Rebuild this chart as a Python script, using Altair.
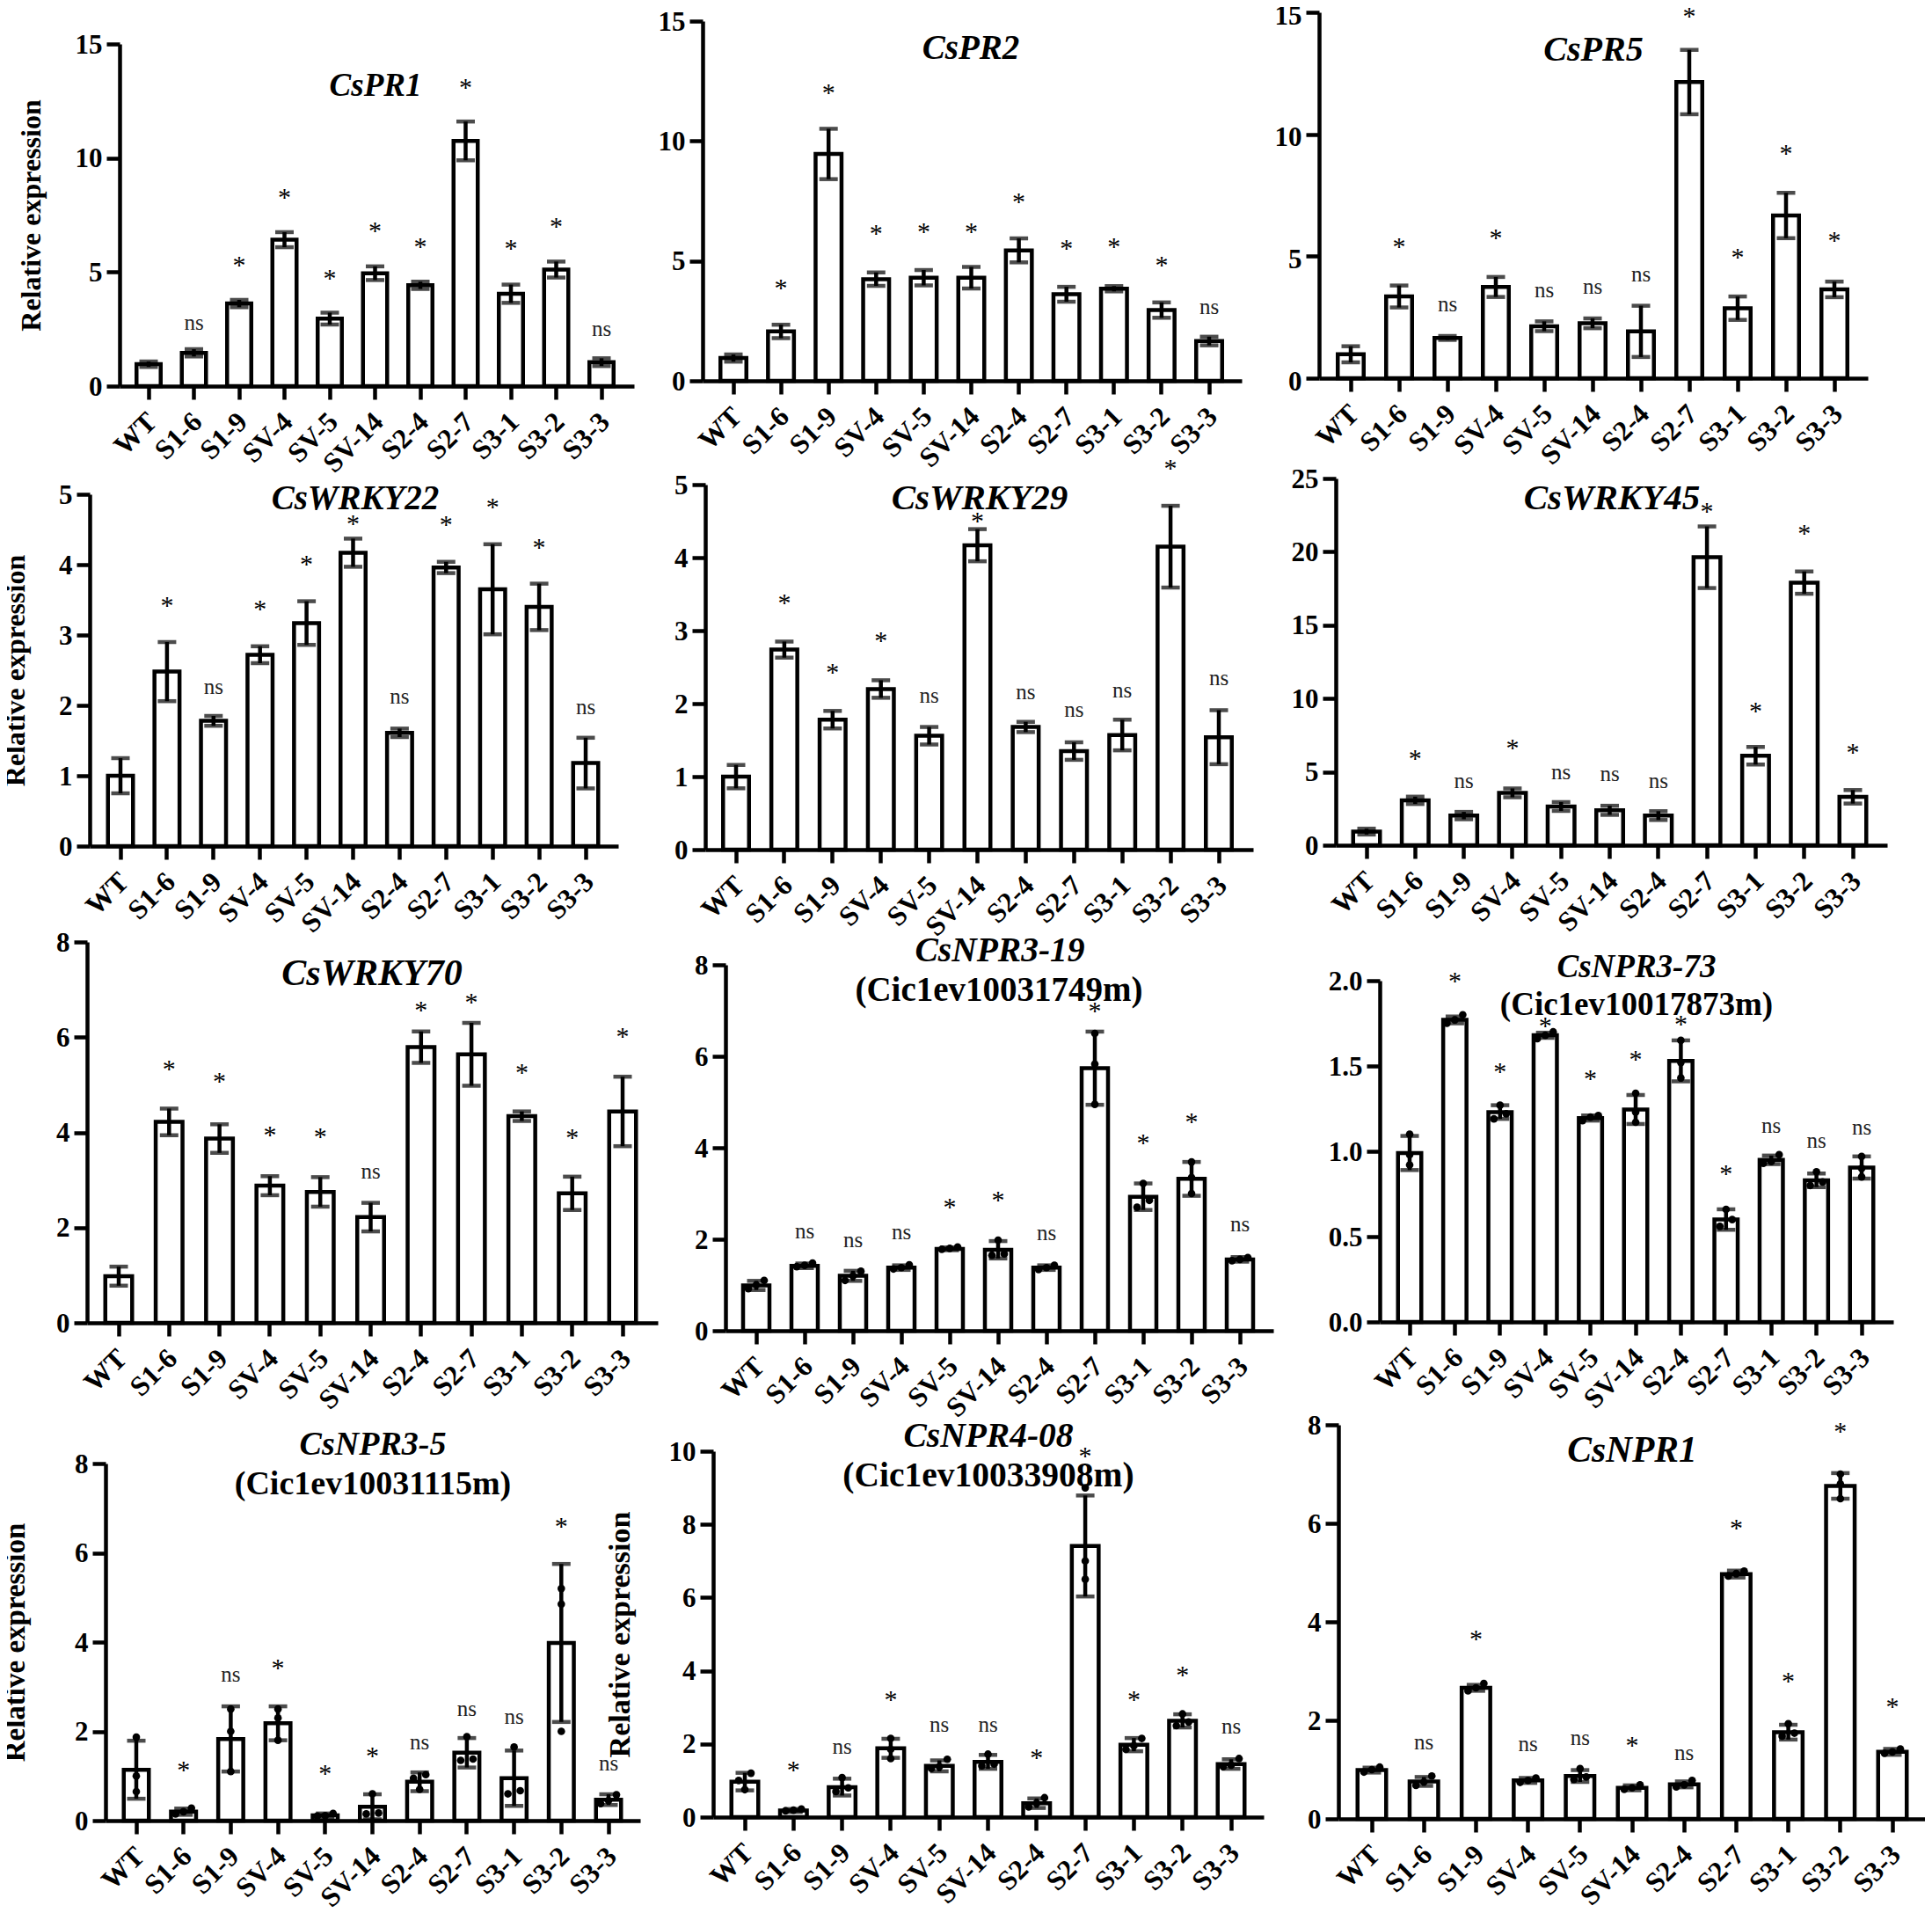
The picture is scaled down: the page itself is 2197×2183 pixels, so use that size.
import altair as alt
import pandas as pd

categories = ['WT', 'S1-6', 'S1-9', 'SV-4', 'SV-5', 'SV-14', 'S2-4', 'S2-7', 'S3-1', 'S3-2', 'S3-3']

pr1_mean = [0.96, 1.46, 3.62, 6.42, 2.96, 4.95, 4.42, 10.75, 4.05, 5.11, 1.05]
pr1_err = [0.12, 0.16, 0.16, 0.33, 0.26, 0.3, 0.16, 0.85, 0.4, 0.35, 0.17]
pr1_sig = ['', 'ns', '*', '*', '*', '*', '*', '*', '*', '*', 'ns']
pr1_sig_y = [0, 2.69, 5.49, 8.44, 4.91, 6.98, 6.28, 13.26, 6.22, 7.18, 2.42]

pr2_mean = [0.95, 2.06, 9.46, 4.24, 4.30, 4.30, 5.44, 3.61, 3.84, 2.95, 1.66]
pr2_err = [0.15, 0.28, 1.05, 0.28, 0.32, 0.45, 0.5, 0.31, 0.11, 0.32, 0.18]
pr2_sig = ['', '*', '*', '*', '*', '*', '*', '*', '*', '*', 'ns']
pr2_sig_y = [0, 4.05, 12.18, 6.29, 6.39, 6.39, 7.62, 5.68, 5.76, 5.0, 3.0]

pr5_mean = [0.98, 3.35, 1.65, 3.74, 2.13, 2.25, 1.92, 12.14, 2.87, 6.67, 3.64]
pr5_err = [0.33, 0.45, 0.08, 0.41, 0.2, 0.2, 1.05, 1.32, 0.48, 0.93, 0.32]
pr5_sig = ['', '*', 'ns', '*', 'ns', 'ns', 'ns', '*', '*', '*', '*']
pr5_sig_y = [0, 5.55, 2.96, 5.92, 3.52, 3.66, 4.18, 15.0, 5.11, 9.37, 5.8]

wrky22_mean = [1.0, 2.48, 1.78, 2.72, 3.17, 4.17, 1.61, 3.96, 3.65, 3.4, 1.18]
wrky22_err = [0.25, 0.42, 0.07, 0.12, 0.31, 0.2, 0.06, 0.08, 0.64, 0.33, 0.36]
wrky22_sig = ['', '*', 'ns', '*', '*', '*', 'ns', '*', '*', '*', 'ns']
wrky22_sig_y = [0, 3.47, 2.24, 3.42, 4.06, 4.64, 2.10, 4.62, 4.87, 4.3, 1.95]

wrky29_mean = [1.0, 2.74, 1.78, 2.2, 1.56, 4.17, 1.68, 1.35, 1.57, 4.15, 1.54]
wrky29_err = [0.16, 0.11, 0.12, 0.12, 0.12, 0.22, 0.07, 0.12, 0.21, 0.56, 0.37]
wrky29_sig = ['', '*', '*', '*', 'ns', '*', 'ns', 'ns', 'ns', '*', 'ns']
wrky29_sig_y = [0, 3.43, 2.48, 2.92, 2.08, 4.56, 2.13, 1.89, 2.16, 5.28, 2.32]

wrky45_mean = [0.93, 3.06, 2.02, 3.57, 2.64, 2.38, 2.02, 19.63, 6.1, 17.9, 3.3]
wrky45_err = [0.2, 0.25, 0.25, 0.3, 0.3, 0.31, 0.3, 2.1, 0.6, 0.76, 0.46]
wrky45_sig = ['', '*', 'ns', '*', 'ns', 'ns', 'ns', '*', '*', '*', '*']
wrky45_sig_y = [0, 6.2, 4.28, 6.92, 4.86, 4.75, 4.24, 23.04, 9.4, 21.5, 6.57]

wrky70_mean = [0.98, 4.22, 3.87, 2.88, 2.75, 2.22, 5.79, 5.64, 4.34, 2.72, 4.44]
wrky70_err = [0.2, 0.28, 0.3, 0.2, 0.31, 0.3, 0.33, 0.66, 0.1, 0.35, 0.73]
wrky70_sig = ['', '*', '*', '*', '*', 'ns', '*', '*', '*', '*', '*']
wrky70_sig_y = [0, 5.42, 5.15, 4.03, 4.0, 3.15, 6.65, 6.81, 5.34, 3.97, 6.09]

npr319_mean = [0.99, 1.42, 1.2, 1.38, 1.79, 1.77, 1.38, 5.74, 2.93, 3.32, 1.56]
npr319_err = [0.1, 0.05, 0.11, 0.05, 0.03, 0.19, 0.05, 0.8, 0.29, 0.37, 0.05]
npr319_sig = ['', 'ns', 'ns', 'ns', '*', '*', 'ns', '*', '*', '*', 'ns']
npr319_sig_y = [0, 2.14, 1.95, 2.12, 2.78, 2.95, 2.09, 7.07, 4.19, 4.65, 2.29]
npr319_points = [[0.92, 1.0, 1.1], [1.4, 1.43, 1.48], [1.1, 1.2, 1.3], [1.35, 1.38, 1.44],
                 [1.78, 1.8, 1.83], [1.65, 1.68, 1.98], [1.34, 1.38, 1.43], [4.95, 5.83, 6.5],
                 [2.7, 2.85, 3.22], [3.0, 3.35, 3.69], [1.53, 1.56, 1.6]]

npr373_mean = [0.99, 1.77, 1.23, 1.68, 1.195, 1.245, 1.53, 0.6, 0.95, 0.83, 0.905]
npr373_err = [0.1, 0.02, 0.04, 0.015, 0.015, 0.085, 0.12, 0.06, 0.025, 0.04, 0.065]
npr373_sig = ['', '*', '*', '*', '*', '*', '*', '*', 'ns', 'ns', 'ns']
npr373_sig_y = [0, 2.02, 1.49, 1.76, 1.45, 1.56, 1.77, 0.89, 1.14, 1.05, 1.13]
npr373_points = [[0.92, 0.98, 1.1], [1.75, 1.77, 1.8], [1.19, 1.22, 1.27], [1.66, 1.68, 1.7],
                 [1.18, 1.2, 1.21], [1.17, 1.23, 1.34], [1.43, 1.52, 1.65], [0.56, 0.6, 0.66],
                 [0.93, 0.94, 0.98], [0.8, 0.82, 0.88], [0.85, 0.9, 0.97]]

npr35_mean = [1.14, 0.2, 1.83, 2.18, 0.12, 0.31, 0.87, 1.52, 0.95, 3.98, 0.47]
npr35_err = [0.65, 0.07, 0.73, 0.38, 0.04, 0.28, 0.21, 0.33, 0.62, 1.77, 0.12]
npr35_sig = ['', '*', 'ns', '*', '*', '*', 'ns', 'ns', 'ns', '*', 'ns']
npr35_sig_y = [0, 1.23, 3.24, 3.5, 1.14, 1.54, 1.72, 2.47, 2.29, 6.68, 1.24]
npr35_points = [[0.65, 1.0, 1.87], [0.15, 0.2, 0.28], [1.1, 2.0, 2.5], [1.8, 2.3, 2.5],
                [0.1, 0.11, 0.16], [0.15, 0.17, 0.6], [0.7, 0.95, 1.03], [1.35, 1.38, 1.88],
                [0.6, 0.67, 1.65], [2.0, 4.85, 5.2], [0.38, 0.45, 0.58]]

npr408_mean = [0.97, 0.18, 0.82, 1.88, 1.4, 1.51, 0.38, 7.41, 1.98, 2.63, 1.45]
npr408_err = [0.24, 0.04, 0.23, 0.26, 0.15, 0.19, 0.13, 1.38, 0.18, 0.18, 0.13]
npr408_sig = ['', '*', 'ns', '*', 'ns', 'ns', '*', '*', '*', '*', 'ns']
npr408_sig_y = [0, 1.4, 1.88, 3.32, 2.48, 2.48, 1.73, 9.98, 3.32, 4.0, 2.43]
npr408_points = [[0.75, 1.0, 1.2], [0.17, 0.19, 0.22], [0.7, 0.8, 1.08], [1.6, 1.85, 2.15],
                 [1.33, 1.38, 1.58], [1.4, 1.45, 1.72], [0.28, 0.38, 0.53], [6.5, 7.0, 9.0],
                 [1.85, 1.95, 2.15], [2.5, 2.6, 2.82], [1.38, 1.42, 1.6]]

npr1_mean = [0.99, 0.76, 2.66, 0.78, 0.87, 0.63, 0.7, 4.97, 1.76, 6.76, 1.36]
npr1_err = [0.05, 0.09, 0.06, 0.05, 0.12, 0.05, 0.06, 0.07, 0.15, 0.26, 0.06]
npr1_sig = ['', 'ns', '*', 'ns', 'ns', '*', 'ns', '*', '*', '*', '*']
npr1_sig_y = [0, 1.51, 3.73, 1.48, 1.61, 1.58, 1.31, 5.98, 2.88, 7.95, 2.36]
npr1_points = [[0.95, 1.0, 1.05], [0.68, 0.75, 0.87], [2.6, 2.66, 2.75], [0.74, 0.78, 0.83],
               [0.8, 0.85, 1.02], [0.6, 0.63, 0.69], [0.65, 0.69, 0.78], [4.93, 4.98, 5.03],
               [1.68, 1.74, 1.93], [6.5, 6.8, 7.0], [1.33, 1.36, 1.42]]

FONT = 'Liberation Serif'
PAGE_W, PAGE_H = 2181, 2167
MARGIN = 8
LINE = 4.5


def panel(title, mean, err, sig, sig_y, ticks, frame, title_pos, title_size,
          points=None, sub=None, sub_pos=None, sub_size=38, ylabel=None, y_label_shift=1):
    # frame is the plot box
    y_axis, y_base, y_top, first, last, x_end, bar_w = frame
    y_axis -= MARGIN
    y_base -= MARGIN
    y_top -= MARGIN
    first -= MARGIN
    last -= MARGIN
    x_end -= MARGIN

    n = len(categories)
    step = (last - first) / (n - 1)
    inner_w = bar_w - LINE
    pad_in = 1 - inner_w / step
    space = x_end - y_axis
    pad_out = (space / step - n + pad_in) / 2
    align = (first - inner_w / 2 - y_axis) / (space - step * (n - pad_in))

    x_scale = alt.Scale(type='band', domain=categories, range=[y_axis, x_end],
                        paddingInner=pad_in, paddingOuter=pad_out, align=align)
    y_scale = alt.Scale(domain=[0, ticks[-1]], range=[y_base, y_top], nice=False)

    x_axis = alt.Axis(orient='bottom', offset=-(PAGE_H - y_base), title=None, labelAngle=315,
                      labelAlign='right', labelBaseline='middle', labelPadding=20, labelOffset=4,
                      labelFont=FONT, labelFontWeight='bold', labelFontSize=32, labelColor='black',
                      domainColor='black', domainWidth=LINE, tickColor='black', tickWidth=LINE, tickSize=15,
                      labelOverlap=False, grid=False)
    if ylabel:
        y_kwargs = dict(title=ylabel[0], titleFont=FONT, titleFontWeight='bold', titleFontSize=ylabel[2],
                        titleColor='black', titleBaseline='middle', titleAngle=270,
                        titleX=ylabel[1] - MARGIN - y_axis)
    else:
        y_kwargs = dict(title=None)
    y_axis_def = alt.Axis(orient='left', offset=-y_axis, values=ticks, labelFont=FONT, labelFontWeight='bold',
                          labelFontSize=31, labelColor='black', labelPadding=5, labelOffset=y_label_shift,
                          domainColor='black', domainWidth=LINE, tickColor='black', tickWidth=LINE, tickSize=15,
                          grid=False, labelOverlap=False, **y_kwargs)

    df = pd.DataFrame({'cat': categories, 'mean': mean, 'err': err, 'sig': sig, 'sig_y': sig_y})
    df['lo'] = df['mean'] - df['err']
    df['hi'] = df['mean'] + df['err']

    x_enc = alt.X('cat:N', scale=x_scale, axis=None)
    base = alt.Chart(df)

    bars = base.mark_bar(fill='white', stroke='black', strokeWidth=LINE).encode(
        x=alt.X('cat:N', scale=x_scale, axis=x_axis),
        y=alt.Y('mean:Q', scale=y_scale, axis=y_axis_def),
    )
    stems = base.mark_rule(color='black', strokeWidth=LINE).encode(
        x=x_enc,
        y=alt.Y('lo:Q', scale=y_scale, axis=None),
        y2='hi:Q',
    )
    caps_lo = base.mark_tick(color='black', size=21, thickness=LINE).encode(
        x=x_enc, y=alt.Y('lo:Q', scale=y_scale, axis=None))
    caps_hi = base.mark_tick(color='black', size=21, thickness=LINE).encode(
        x=x_enc, y=alt.Y('hi:Q', scale=y_scale, axis=None))
    stars = alt.Chart(df[df['sig'] == '*']).mark_text(
        font=FONT, fontSize=30, color='black', baseline='middle', dy=5).encode(
        x=x_enc, y=alt.Y('sig_y:Q', scale=y_scale, axis=None), text='sig:N')
    ns = alt.Chart(df[df['sig'] == 'ns']).mark_text(
        font=FONT, fontSize=25, color='#222222', baseline='middle', dy=-2).encode(
        x=x_enc, y=alt.Y('sig_y:Q', scale=y_scale, axis=None), text='sig:N')
    layers = [bars, stems, caps_lo, caps_hi]

    if points:
        px_per_unit = (y_base - y_top) / ticks[-1]
        rows = []
        for c, vals in zip(categories, points):
            # dots that would sit on top of each other get spread sideways
            gap_a = (vals[1] - vals[0]) * px_per_unit
            gap_b = (vals[2] - vals[1]) * px_per_unit
            if gap_a < 9 and gap_b < 9:
                shift = [-9, 0, 9]
            elif gap_a < 9:
                shift = [-7, 7, 0]
            elif gap_b < 9:
                shift = [0, -7, 7]
            else:
                shift = [0, 0, 0]
            for v, s in zip(vals, shift):
                # xOffset counts from the left edge of the band
                rows.append({'cat': c, 'val': v, 'shift': s + inner_w / 2})
        dots = alt.Chart(pd.DataFrame(rows)).mark_circle(color='black', size=75, opacity=1).encode(
            x=x_enc,
            xOffset=alt.XOffset('shift:Q', scale=None),
            y=alt.Y('val:Q', scale=y_scale, axis=None),
        )
        layers.append(dots)

    layers += [stars, ns]

    head = alt.Chart(pd.DataFrame({'t': [title]})).mark_text(
        font=FONT, fontSize=title_size, fontWeight='bold', fontStyle='italic', color='black',
        baseline='middle', align='center').encode(
        x=alt.value(title_pos[0] - MARGIN), y=alt.value(title_pos[1] - MARGIN), text='t:N')
    layers.append(head)
    if sub:
        sub_text = alt.Chart(pd.DataFrame({'t': [sub]})).mark_text(
            font=FONT, fontSize=sub_size, fontWeight='bold', color='black',
            baseline='middle', align='center').encode(
            x=alt.value(sub_pos[0] - MARGIN), y=alt.value(sub_pos[1] - MARGIN), text='t:N')
        layers.append(sub_text)
    return layers


panels = [
    panel('CsPR1', pr1_mean, pr1_err, pr1_sig, pr1_sig_y, [0, 5, 10, 15],
          (136, 439, 50, 169, 684, 721, 32), (427, 98), 37, ylabel=('Relative expression', 35, 32)),
    panel('CsPR2', pr2_mean, pr2_err, pr2_sig, pr2_sig_y, [0, 5, 10, 15],
          (799, 433, 24, 834, 1375, 1412, 34), (1104, 55), 39),
    panel('CsPR5', pr5_mean, pr5_err, pr5_sig, pr5_sig_y, [0, 5, 10, 15],
          (1500, 430, 14, 1536, 2086, 2124, 34), (1812, 57), 40, y_label_shift=4),
    panel('CsWRKY22', wrky22_mean, wrky22_err, wrky22_sig, wrky22_sig_y, [0, 1, 2, 3, 4, 5],
          (102, 962, 562, 137, 666, 703, 33), (404, 567), 39, ylabel=('Relative expression', 17, 32)),
    panel('CsWRKY29', wrky29_mean, wrky29_err, wrky29_sig, wrky29_sig_y, [0, 1, 2, 3, 4, 5],
          (802, 966, 551, 837, 1386, 1425, 34), (1114, 567), 41),
    panel('CsWRKY45', wrky45_mean, wrky45_err, wrky45_sig, wrky45_sig_y, [0, 5, 10, 15, 20, 25],
          (1519, 961, 544, 1554, 2107, 2146, 35), (1833, 567), 41),
    panel('CsWRKY70', wrky70_mean, wrky70_err, wrky70_sig, wrky70_sig_y, [0, 2, 4, 6, 8],
          (99, 1504, 1071, 135, 708, 748, 35), (423, 1107), 42),
    panel('CsNPR3-19', npr319_mean, npr319_err, npr319_sig, npr319_sig_y, [0, 2, 4, 6, 8],
          (825, 1513, 1097, 860, 1410, 1448, 34.5), (1137, 1081), 39.5, points=npr319_points,
          sub='(Cic1ev10031749m)', sub_pos=(1136, 1126), sub_size=39),
    panel('CsNPR3-73', npr373_mean, npr373_err, npr373_sig, npr373_sig_y, [0.0, 0.5, 1.0, 1.5, 2.0],
          (1569, 1503, 1115, 1603, 2117, 2153, 31), (1861, 1100), 37, points=npr373_points,
          sub='(Cic1ev10017873m)', sub_pos=(1861, 1143), sub_size=37),
    panel('CsNPR3-5', npr35_mean, npr35_err, npr35_sig, npr35_sig_y, [0, 2, 4, 6, 8],
          (120, 2070, 1664, 155, 692, 728, 33), (424, 1643), 38, points=npr35_points,
          sub='(Cic1ev10031115m)', sub_pos=(424, 1688), sub_size=38, ylabel=('Relative expression', 17, 33)),
    panel('CsNPR4-08', npr408_mean, npr408_err, npr408_sig, npr408_sig_y, [0, 2, 4, 6, 8, 10],
          (811, 2066, 1650, 847, 1400, 1437, 35), (1124, 1633), 39.5, points=npr408_points,
          sub='(Cic1ev10033908m)', sub_pos=(1124, 1678), sub_size=39.5, ylabel=('Relative expression', 705, 34)),
    panel('CsNPR1', npr1_mean, npr1_err, npr1_sig, npr1_sig_y, [0, 2, 4, 6, 8],
          (1522, 2068, 1620, 1560, 2152, 2189, 37), (1856, 1650), 41.5, points=npr1_points),
]

all_layers = [layer for p in panels for layer in p]

chart = alt.layer(*all_layers).resolve_scale(
    x='independent', y='independent'
).properties(
    width=PAGE_W,
    height=PAGE_H,
    padding=0,
    background='white',
    autosize=alt.AutoSizeParams(type='none'),
).configure_view(stroke=None)

chart.save("out.html", embed_options={"renderer": "svg", "actions": False})
